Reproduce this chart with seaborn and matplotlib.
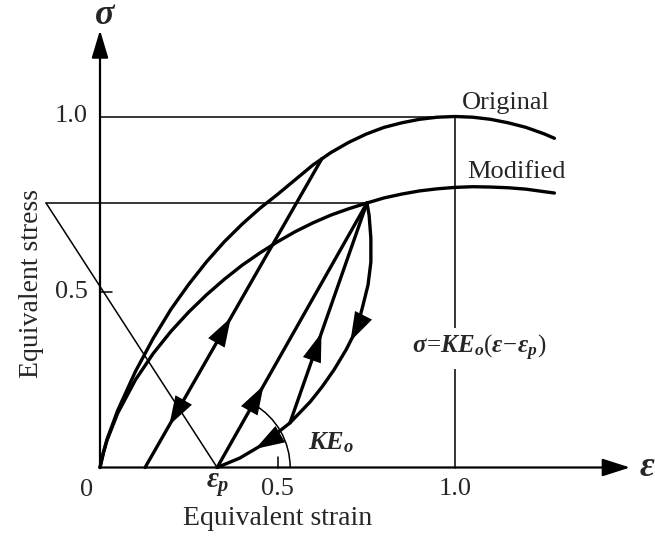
import numpy as np
import pandas as pd
import matplotlib
matplotlib.use("Agg")
import matplotlib.pyplot as plt
from matplotlib.patches import Arc
import seaborn as sns

# ---------------- data ----------------
eps_orig = [0.0, 0.01, 0.02, 0.05, 0.10, 0.15, 0.20, 0.25, 0.30, 0.35, 0.40, 0.45, 0.50,
            0.55, 0.60, 0.65, 0.70, 0.75, 0.80, 0.85, 0.90, 0.95, 1.00, 1.05, 1.10,
            1.15, 1.20, 1.25, 1.28]
sig_orig = [0.0, 0.045, 0.081, 0.163, 0.274, 0.368, 0.451, 0.522, 0.586, 0.643, 0.693, 0.738, 0.778,
            0.820, 0.862, 0.897, 0.926, 0.950, 0.969, 0.982, 0.992, 0.998, 1.000, 0.998, 0.992,
            0.982, 0.969, 0.951, 0.938]

eps_mod = [0.0, 0.01, 0.02, 0.05, 0.10, 0.15, 0.20, 0.25, 0.30, 0.35, 0.40, 0.45, 0.50,
           0.55, 0.60, 0.65, 0.70, 0.752, 0.80, 0.85, 0.90, 0.95, 1.00, 1.05, 1.10,
           1.15, 1.20, 1.25, 1.28]
sig_mod = [0.0, 0.043, 0.078, 0.155, 0.250, 0.325, 0.388, 0.443, 0.492, 0.536, 0.576, 0.611, 0.643,
           0.672, 0.697, 0.719, 0.737, 0.7536, 0.768, 0.779, 0.788, 0.794, 0.798, 0.800, 0.799,
           0.797, 0.793, 0.786, 0.782]

# unloading curve from the loop peak back to eps_p
eps_unload = [0.752, 0.758, 0.763, 0.763, 0.755, 0.741, 0.724, 0.693, 0.659, 0.625,
              0.592, 0.535, 0.456, 0.394, 0.330]
sig_unload = [0.7536, 0.719, 0.654, 0.585, 0.520, 0.463, 0.397, 0.335, 0.278, 0.229,
              0.187, 0.127, 0.064, 0.027, 0.0]

eps_p = 0.33
peak = (0.752, 0.7536)           # reloading peak on the modified curve
loop1_eps = [0.127, 0.625]       # first unloading/reloading line
loop1_sig = [0.0, 0.880]
reload_base = (0.535, 0.127)     # start of second reloading line
triangle_eps = [-0.152, 0.33]
triangle_sig = [0.7536, 0.0]

x_ticks = [0.5, 1.0]
x_tick_labels = ["0.5", "1.0"]
y_ticks = [0.5, 1.0]
y_tick_labels = ["0.5", "1.0"]

# ---------------- styling ----------------
sns.set_theme(style="white")
plt.rcParams['font.family'] = ['Liberation Serif', 'DejaVu Serif']
plt.rcParams['mathtext.fontset'] = 'custom'
plt.rcParams['mathtext.rm'] = 'Liberation Serif'
plt.rcParams['mathtext.it'] = 'Liberation Serif:italic:bold'
plt.rcParams['mathtext.bf'] = 'Liberation Serif:bold'

W, H = 655, 536
fig = plt.figure(figsize=(W / 100, H / 100), dpi=100)
ax = fig.add_axes([0, 0, 1, 1])
x0px, y0px, sx, sy = 100.0, 467.5, 355.0, 351.0
ax.set_xlim(-x0px / sx, (W - x0px) / sx)
ax.set_ylim((y0px - H) / sy, y0px / sy)
ax.axis('off')

THICK = 2.4
THIN = 1.1
k = 'black'

# thick curves
df_o = pd.DataFrame({'e': eps_orig, 's': sig_orig})
df_m = pd.DataFrame({'e': eps_mod, 's': sig_mod})
df_u = pd.DataFrame({'e': eps_unload, 's': sig_unload})
for df in (df_o, df_m, df_u):
    sns.lineplot(data=df, x='e', y='s', ax=ax, color=k, lw=THICK, sort=False,
                 estimator=None, solid_joinstyle='round')

# straight loading lines
ax.plot(loop1_eps, loop1_sig, color=k, lw=THICK)
ax.plot([eps_p, peak[0]], [0, peak[1]], color=k, lw=THICK)
ax.plot([reload_base[0], peak[0]], [reload_base[1], peak[1]], color=k, lw=THICK)

# thin construction lines
ax.plot([triangle_eps[0], peak[0]], [peak[1], peak[1]], color=k, lw=THIN)
ax.plot(triangle_eps, triangle_sig, color=k, lw=THIN)
ax.plot([0, 1.0], [1.0, 1.0], color=k, lw=THIN)
ax.plot([1.0, 1.0], [0, 1.0], color=k, lw=THIN, zorder=2)

# axes with arrows
ax.annotate("", xy=(1.493, 0), xytext=(0, 0),
            arrowprops=dict(arrowstyle="-|>,head_length=1.0,head_width=0.32",
                            mutation_scale=17, color=k, lw=1.6, shrinkA=0, shrinkB=0))
ax.annotate("", xy=(0, 1.246), xytext=(0, 0),
            arrowprops=dict(arrowstyle="-|>,head_length=1.0,head_width=0.3",
                            mutation_scale=17, color=k, lw=1.6, shrinkA=0, shrinkB=0))

# ticks
for xt in x_ticks[:1]:
    ax.plot([xt, xt], [0, 0.03], color=k, lw=THIN)
for yt in y_ticks[:1]:
    ax.plot([0, 0.033], [yt, yt], color=k, lw=THIN)
for xt, lab in zip(x_ticks, x_tick_labels):
    ax.text(xt, -0.062, lab, ha='center', va='center', fontsize=19)
for yt, lab in zip(y_ticks, y_tick_labels):
    ax.text(-0.034, yt, lab, ha='right', va='center', fontsize=19)
ax.text(-0.037, -0.064, "0", ha='center', va='center', fontsize=19)


def arrow_on(p0, p1, frac, ms=19):
    p0 = np.asarray(p0, float)
    p1 = np.asarray(p1, float)
    d = p1 - p0
    tip = p0 + frac * d
    tail = tip - 0.01 * d / np.hypot(*d)
    ax.annotate("", xy=tuple(tip), xytext=tuple(tail),
                arrowprops=dict(arrowstyle="-|>,head_length=1.1,head_width=0.36",
                                mutation_scale=ms, color=k, lw=0, shrinkA=0, shrinkB=0))


A = (loop1_eps[0], loop1_sig[0])
B = (loop1_eps[1], loop1_sig[1])
arrow_on(A, B, 0.485)
arrow_on(B, A, 0.863)
arrow_on((eps_p, 0), peak, 0.31)
arrow_on(reload_base, peak, 0.41)
u = list(zip(eps_unload, sig_unload))
arrow_on(u[6], u[7], 0.6)
arrow_on(u[12], u[13], 0.3)

# angle arc KE_o
r = 73.0
ax.add_patch(Arc((eps_p, 0), 2 * r / sx, 2 * r / sy, theta1=0, theta2=60.4,
                 color=k, lw=THIN))

# labels
ax.text(0.014, 1.289, r"$\sigma$", ha='center', va='center', fontsize=26)
ax.text(1.541, 0.0, r"$\varepsilon$", ha='center', va='center', fontsize=26)
ax.text(eps_p + 0.002, -0.05, r"$\varepsilon_p$", ha='center', va='center', fontsize=21)
ax.text(0.5, -0.144, "Equivalent strain", ha='center', va='center', fontsize=20)
ax.text(-0.194, 0.523, "Equivalent stress", ha='center', va='center', fontsize=20,
        rotation=90)
ax.text(1.02, 1.038, "Original", ha='left', va='center', fontsize=19)
ax.text(1.034, 0.842, "Modified", ha='left', va='center', fontsize=19)
ax.text(0.586, 0.07, r"$KE_o$", ha='left', va='center', fontsize=19)
ax.text(0.88, 0.34, r"$\sigma\!=\!KE_o(\varepsilon\!-\!\varepsilon_p)$", ha='left', va='center',
        fontsize=18, zorder=5,
        bbox=dict(facecolor='white', edgecolor='none', pad=4))

fig.savefig("out.png", dpi=100)
